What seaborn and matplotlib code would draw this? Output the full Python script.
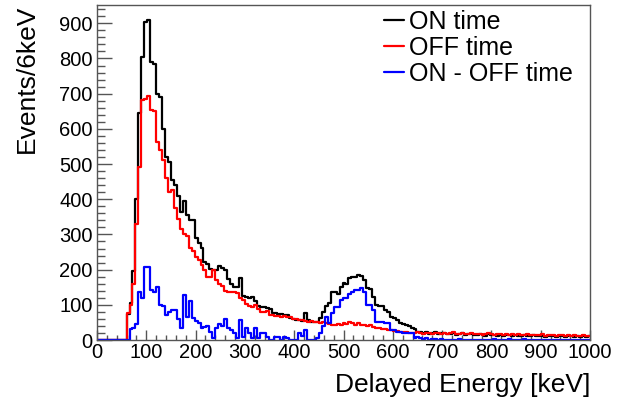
import numpy as np
import pandas as pd
import matplotlib
matplotlib.use("Agg")
import matplotlib.pyplot as plt
from matplotlib.lines import Line2D
from matplotlib.ticker import MultipleLocator
import seaborn as sns

# 6 keV bins from 0 to 1002 keV; counts below 60 keV are empty
bin_width = 6
n_empty_low = 10

on_time = [
    75, 105, 195, 400, 645, 805, 903, 908, 790, 785,
    700, 690, 600, 520, 505, 455, 440, 410, 365, 395,
    355, 340, 341, 290, 275, 262, 222, 215, 202, 200,
    200, 210, 205, 198, 172, 158, 150, 150, 175, 125,
    123, 118, 122, 110, 97, 95, 95, 90, 88, 78,
    76, 75, 74, 71, 70, 63, 61, 58, 57, 53,
    76, 57, 52, 52, 52, 62, 80, 97, 104, 137,
    137, 130, 151, 161, 158, 175, 178, 180, 185, 183,
    170, 147, 145, 123, 100, 97, 97, 85, 80, 66,
    62, 57, 47, 45, 43, 40, 33, 30, 24, 22,
    21, 22, 18, 20, 23, 17, 19, 21, 16, 18,
    20, 15, 17, 19, 14, 16, 18, 13, 15, 17,
    14, 12, 16, 13, 15, 11, 14, 12, 13, 15,
    11, 13, 12, 10, 14, 12, 11, 13, 10, 12,
    11, 9, 12, 10, 11, 9, 12, 10, 8, 11,
    10, 9, 11, 8, 10, 9, 10,
]

off_time = [
    76, 100, 160, 330, 492, 682, 686, 692, 653, 650,
    563, 540, 511, 459, 421, 425, 375, 345, 315, 300,
    295, 262, 252, 235, 228, 214, 200, 180, 180, 199,
    170, 160, 154, 138, 136, 136, 137, 134, 120, 114,
    102, 98, 95, 100, 88, 80, 80, 82, 70, 72,
    68, 67, 66, 68, 66, 64, 61, 61, 58, 56,
    53, 52, 54, 52, 51, 48, 52, 47, 45, 43,
    42, 45, 43, 47, 45, 50, 47, 43, 47, 43,
    42, 40, 42, 38, 33, 35, 30, 32, 28, 27,
    25, 26, 24, 22, 24, 20, 21, 19, 22, 20,
    18, 19, 20, 18, 21, 19, 17, 20, 18, 19,
    22, 18, 17, 19, 16, 18, 20, 17, 16, 18,
    15, 17, 19, 16, 15, 17, 16, 14, 18, 15,
    16, 14, 17, 15, 13, 16, 14, 15, 13, 14,
    16, 12, 14, 13, 15, 12, 13, 14, 12, 13,
    11, 14, 12, 12, 13, 11, 12,
]

on_minus_off = [
    0, 30, 35, 45, 137, 118, 208, 208, 142, 137,
    151, 100, 97, 71, 80, 85, 85, 60, 35, 128,
    66, 110, 63, 55, 48, 35, 38, 40, 22, 5,
    35, 45, 40, 61, 35, 28, 20, 5, 57, 9,
    33, 19, 5, 33, 5, 19, 19, 9, 0, 0,
    9, 9, 0, 9, 5, 0, 0, 0, 19, 10,
    28, 0, 0, 0, 5, 20, 40, 64, 47, 76,
    95, 95, 114, 118, 118, 132, 137, 142, 142, 147,
    137, 99, 99, 85, 52, 52, 52, 47, 47, 28,
    28, 24, 24, 19, 19, 19, 19, 5, 8, 5,
    3, 5, 0, 2, 4, 0, 3, 1, 0, 0,
    0, 0, 2, 0, 0, 0, 0, 0, 0, 0,
    0, 0, 0, 0, 2, 0, 0, 0, 0, 3,
    0, 0, 0, 0, 2, 0, 0, 0, 0, 0,
    0, 0, 0, 0, 0, 0, 0, 0, 0, 0,
    0, 0, 0, 0, 0, 0, 0,
]

series_labels = ["ON time", "OFF time", "ON - OFF time"]
series_colors = ["#000000", "#ff0000", "#0000ff"]

n_bins = n_empty_low + len(on_time)
edges = [i * bin_width for i in range(n_bins + 1)]
centers = [e + bin_width / 2 for e in edges[:-1]]


def padded(values):
    return [0.0] * n_empty_low + [float(v) for v in values]


frames = []
for label, values in zip(series_labels, [on_time, off_time, on_minus_off]):
    frames.append(pd.DataFrame({"energy": centers, "counts": padded(values),
                                "series": label}))
df = pd.concat(frames, ignore_index=True)

sns.set_style("ticks")
plt.rcParams["font.family"] = ["Liberation Sans", "DejaVu Sans"]
plt.rcParams["text.color"] = "black"
plt.rcParams["axes.labelcolor"] = "black"
plt.rcParams["xtick.labelcolor"] = "black"
plt.rcParams["ytick.labelcolor"] = "black"

fig = plt.figure(figsize=(6.22, 4.03), dpi=100)
ax = fig.add_axes([97 / 622, 63 / 403, 493 / 622, 335 / 403])

for label, color in zip(series_labels, series_colors):
    sub = df[df["series"] == label].reset_index(drop=True)
    sns.histplot(data=sub, x="energy", weights="counts", bins=edges,
                 element="step", fill=False, color=color, linewidth=1.6,
                 ax=ax)

ax.set_xlim(0, 1000)
ax.set_ylim(0, 952)

ax.xaxis.set_major_locator(MultipleLocator(100))
ax.xaxis.set_minor_locator(MultipleLocator(20))
ax.yaxis.set_major_locator(MultipleLocator(100))
ax.yaxis.set_minor_locator(MultipleLocator(20))

frame_color = "#555555"
for side in ["left", "bottom", "top", "right"]:
    ax.spines[side].set_color(frame_color)
    ax.spines[side].set_linewidth(1.0)

ax.tick_params(axis="x", which="major", direction="in", length=7, width=1,
               color=frame_color, labelsize=14.5, pad=2, labelcolor="black")
ax.tick_params(axis="x", which="minor", direction="in", length=3.5, width=1,
               color=frame_color)
ax.tick_params(axis="y", which="major", direction="in", length=11, width=1,
               color=frame_color, labelsize=14.5, pad=3, labelcolor="black")
ax.tick_params(axis="y", which="minor", direction="in", length=5.5, width=1,
               color=frame_color)

ax.set_xlabel("Delayed Energy [keV]", fontsize=19, loc="right", labelpad=8,
              color="black")
ax.set_ylabel("Events/6keV", fontsize=19, loc="top", labelpad=15,
              color="black")

handles = [Line2D([], [], color=c, linewidth=1.6) for c in series_colors]
fig.legend(handles, series_labels, loc="upper left",
           bbox_to_anchor=(384 / 622, 1 - 10 / 403), frameon=False,
           fontsize=18, handlelength=0.8, handletextpad=0.2,
           labelspacing=0.08, borderpad=0, borderaxespad=0,
           labelcolor="black")

fig.savefig("out.png", dpi=100)
